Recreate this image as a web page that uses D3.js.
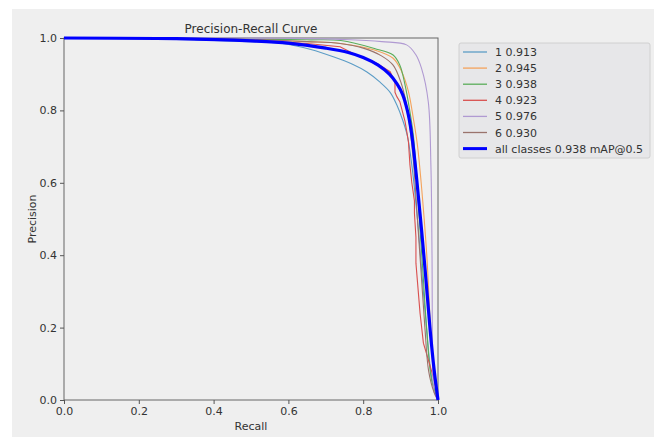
<!DOCTYPE html>
<meta charset="utf-8">
<style>
body { margin: 0; background: #fff; }
text { font-family: "DejaVu Sans", sans-serif; fill: #333; }
.axis path, .axis line { stroke: #555; }
.axis text { font-size: 11px; fill: #333; }
</style>
<body>
<script src="https://d3js.org/d3.v7.min.js"></script>
<script>

var width = 654,
    height = 437;

var margin = {left: 64, top: 38, right: 216, bottom: 37};

// class names + AP values (legend)
var classNames = ["1", "2", "3", "4", "5", "6"];
var classAP = [0.913, 0.945, 0.938, 0.923, 0.976, 0.930];
var allAP = 0.938;
var classColors = ["#5b9cc6", "#f4a35c", "#5aad5a", "#d9504f", "#b09ad2", "#9a736c"];

// recall / precision
var recall1 = [0, 0.2, 0.35, 0.5, 0.59, 0.66, 0.72, 0.77, 0.81, 0.845, 0.872, 0.89, 0.905, 0.918, 0.93, 0.945, 0.965, 0.985, 1];
var precision1 = [1, 0.998, 0.995, 0.99, 0.984, 0.968, 0.948, 0.928, 0.906, 0.878, 0.85, 0.815, 0.775, 0.73, 0.649, 0.5, 0.25, 0.05, 0];

var recall2 = [0, 0.3, 0.5, 0.65, 0.74, 0.83, 0.88, 0.903, 0.921, 0.934, 0.945, 0.955, 0.97, 0.98, 0.99, 1];
var precision2 = [1, 0.999, 0.996, 0.99, 0.985, 0.967, 0.944, 0.907, 0.852, 0.778, 0.704, 0.6, 0.4, 0.2, 0.05, 0];

var recall3 = [0, 0.3, 0.5, 0.65, 0.74, 0.83, 0.88, 0.898, 0.912, 0.925, 0.934, 0.941, 0.95, 0.96, 0.97, 0.983, 1];
var precision3 = [1, 0.999, 0.997, 0.995, 0.993, 0.971, 0.953, 0.925, 0.87, 0.796, 0.732, 0.649, 0.5, 0.35, 0.193, 0.055, 0];

var recall4 = [0, 0.3, 0.5, 0.65, 0.738, 0.791, 0.836, 0.872, 0.885, 0.885, 0.89, 0.898, 0.912, 0.921, 0.925, 0.93, 0.937, 0.937, 0.941, 0.941, 0.952, 0.961, 0.977, 0.997, 1];
var precision4 = [1, 0.999, 0.995, 0.985, 0.976, 0.948, 0.93, 0.907, 0.879, 0.85, 0.838, 0.824, 0.769, 0.713, 0.649, 0.6, 0.55, 0.516, 0.45, 0.378, 0.24, 0.157, 0.101, 0.028, 0];

var recall5 = [0, 0.4, 0.6, 0.75, 0.85, 0.916, 0.94, 0.956, 0.974, 0.981, 0.984, 0.986, 0.99, 1];
var precision5 = [1, 1, 0.999, 0.996, 0.99, 0.981, 0.955, 0.916, 0.824, 0.649, 0.4, 0.1, 0.02, 0];

var recall6 = [0, 0.3, 0.5, 0.65, 0.738, 0.8, 0.85, 0.88, 0.9, 0.915, 0.925, 0.935, 0.945, 0.955, 0.965, 0.975, 0.99, 1];
var precision6 = [1, 0.999, 0.996, 0.99, 0.985, 0.972, 0.95, 0.925, 0.88, 0.82, 0.75, 0.65, 0.5, 0.35, 0.2, 0.08, 0.02, 0];

var recallAll = [0, 0.3, 0.5, 0.6, 0.7, 0.76, 0.8, 0.84, 0.87, 0.89, 0.905, 0.918, 0.928, 0.936, 0.944, 0.956, 0.968, 0.979, 0.99, 1];
var precisionAll = [1, 0.998, 0.992, 0.986, 0.972, 0.96, 0.946, 0.925, 0.9, 0.874, 0.845, 0.8, 0.746, 0.68, 0.6, 0.47, 0.33, 0.193, 0.08, 0];

var xTicks = [0, 0.2, 0.4, 0.6, 0.8, 1.0];
var yTicks = [0, 0.2, 0.4, 0.6, 0.8, 1.0];

var series = [
  [recall1, precision1], [recall2, precision2], [recall3, precision3],
  [recall4, precision4], [recall5, precision5], [recall6, precision6]
].map(function(s, i) {
  return {
    name: classNames[i] + " " + classAP[i].toFixed(3),
    color: classColors[i],
    stepped: i === 3,
    points: s[0].map(function(r, j) { return [r, s[1][j]]; })
  };
});
var allSeries = {
  name: "all classes " + allAP.toFixed(3) + " mAP@0.5",
  color: "#0000ff",
  points: recallAll.map(function(r, j) { return [r, precisionAll[j]]; })
};

var svg = d3.select("body").append("svg")
    .attr("width", width)
    .attr("height", height);

// photographed figure background
svg.append("rect")
    .attr("x", 12).attr("y", 9)
    .attr("width", width - 12).attr("height", height - 9)
    .attr("fill", "#efefef");

var x = d3.scaleLinear().domain([0, 1]).range([margin.left, width - margin.right]);
var y = d3.scaleLinear().domain([0, 1]).range([height - margin.bottom, margin.top]);

var smooth = d3.line()
    .curve(d3.curveCatmullRom.alpha(0.5))
    .x(function(d) { return x(d[0]); })
    .y(function(d) { return y(d[1]); });
var straight = d3.line()
    .x(function(d) { return x(d[0]); })
    .y(function(d) { return y(d[1]); });

// frame
svg.append("rect")
    .attr("x", x(0)).attr("y", y(1))
    .attr("width", x(1) - x(0)).attr("height", y(0) - y(1))
    .attr("fill", "none")
    .attr("stroke", "#666")
    .attr("stroke-width", 1);

svg.append("g")
    .attr("class", "axis")
    .attr("transform", "translate(0," + y(0) + ")")
    .call(d3.axisBottom(x).tickValues(xTicks).tickFormat(d3.format(".1f")).tickSize(4).tickSizeOuter(0))
    .call(function(g) { g.select(".domain").remove(); });

svg.append("g")
    .attr("class", "axis")
    .attr("transform", "translate(" + x(0) + ",0)")
    .call(d3.axisLeft(y).tickValues(yTicks).tickFormat(d3.format(".1f")).tickSize(4).tickSizeOuter(0))
    .call(function(g) { g.select(".domain").remove(); });

svg.append("g").selectAll("path")
    .data(series)
  .enter().append("path")
    .attr("d", function(d) { return (d.stepped ? straight : smooth)(d.points); })
    .attr("fill", "none")
    .attr("stroke", function(d) { return d.color; })
    .attr("stroke-width", 1.1);

svg.append("path")
    .attr("d", smooth(allSeries.points))
    .attr("fill", "none")
    .attr("stroke", allSeries.color)
    .attr("stroke-width", 3.2);

svg.append("text")
    .attr("x", (x(0) + x(1)) / 2).attr("y", 33)
    .attr("text-anchor", "middle")
    .style("font-size", "12px")
    .text("Precision-Recall Curve");

svg.append("text")
    .attr("x", (x(0) + x(1)) / 2).attr("y", 430)
    .attr("text-anchor", "middle")
    .style("font-size", "11px")
    .text("Recall");

svg.append("text")
    .attr("transform", "translate(36," + (y(0) + y(1)) / 2 + ") rotate(-90)")
    .attr("text-anchor", "middle")
    .style("font-size", "11px")
    .text("Precision");

// legend
var legend = svg.append("g").attr("transform", "translate(459,43)");
legend.append("rect")
    .attr("width", 191).attr("height", 115)
    .attr("rx", 2)
    .attr("fill", "#e7e7e9")
    .attr("stroke", "#d0d0d0");

var items = series.concat([allSeries]);
var row = legend.selectAll(".item")
    .data(items)
  .enter().append("g")
    .attr("class", "item")
    .attr("transform", function(d, i) { return "translate(0," + (9 + i * 16.1) + ")"; });

row.append("line")
    .attr("x1", 4).attr("x2", 28)
    .attr("stroke", function(d) { return d.color; })
    .attr("stroke-width", function(d, i) { return i === 6 ? 3 : 1.3; });

row.append("text")
    .attr("x", 36).attr("y", 4)
    .style("font-size", "11px")
    .text(function(d) { return d.name; });

</script>
